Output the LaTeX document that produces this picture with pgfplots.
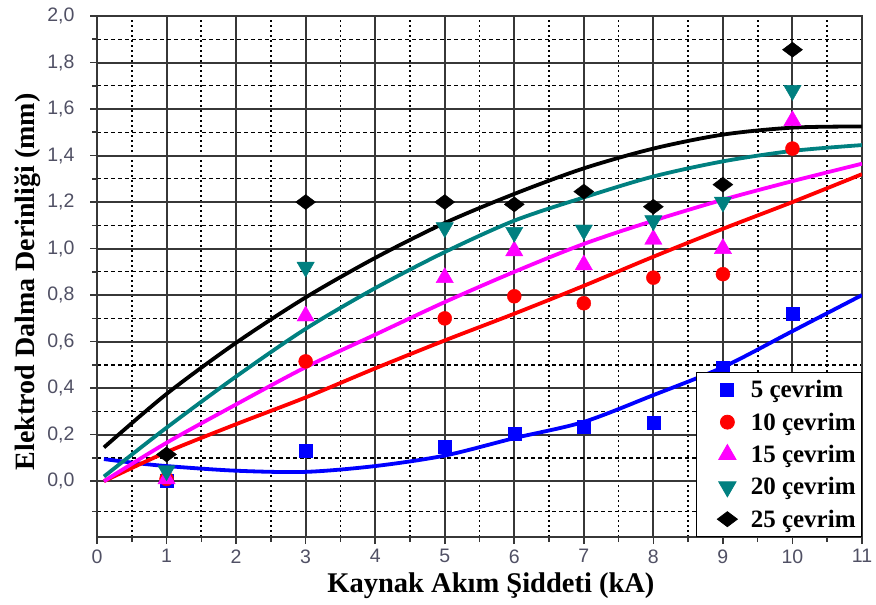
\documentclass[border=0pt]{standalone}
\usepackage{pgfplots}
\pgfplotsset{compat=1.18}
\usepackage{fontspec}
\setmainfont{Liberation Serif}
\newfontfamily\tickfont{Liberation Sans}
\definecolor{tickc}{RGB}{80,80,100}
\definecolor{tealc}{RGB}{0,128,128}
\definecolor{magc}{RGB}{255,0,255}
\definecolor{bluec}{RGB}{0,0,255}
\definecolor{redc}{RGB}{255,0,0}
\definecolor{gridc}{RGB}{55,55,55}
\begin{document}
\begin{tikzpicture}
\begin{axis}[
  name=main,
  scale only axis, width=765pt, height=521pt,
  xmin=0, xmax=11, ymin=-0.24, ymax=2.0,
  xtick={0,1,2,3,4,5,6,7,8,9,10,11},
  ytick={0,0.2,0.4,0.6,0.8,1.0,1.2,1.4,1.6,1.8,2.0},
  minor xtick={0.5,1.5,2.5,3.5,4.5,5.5,6.5,7.5,8.5,9.5,10.5},
  minor ytick={-0.13,0.1,0.3,0.5,0.7,0.9,1.1,1.3,1.5,1.7,1.9},
  grid=both,
  major grid style={gridc, line width=2pt},
  minor x grid style={black, line width=1.8pt, dash pattern=on 1.8pt off 3.2pt},
  minor y grid style={black, line width=1.3pt, dash pattern=on 4pt off 3pt},
  axis line style={gridc, line width=2pt},
  tick align=outside, tick pos=left,
  major tick length=7pt, minor tick length=5pt,
  every tick/.style={gridc, line width=1.6pt},
  /pgf/number format/assume math mode=true,
  yticklabel style={/pgf/number format/fixed, /pgf/number format/fixed zerofill,
    /pgf/number format/precision=1, /pgf/number format/use comma},
  every tick label/.append style={font=\tickfont\fontsize{19.5}{19.5}\selectfont, text=tickc},
  every y tick label/.append style={anchor=east, xshift=-12pt},
  every x tick label/.append style={anchor=north, yshift=-2pt},
  xlabel={Kaynak Akım Şiddeti (kA)},
  ylabel={Elektrod Dalma Derinliği (mm)},
  every axis x label/.style={at={(axis description cs:0.515,-0.094)}, anchor=center,
    font=\bfseries\fontsize{28.5}{28.5}\selectfont, text=black},
  every axis y label/.style={at={(axis description cs:-0.091,0.49)}, anchor=center, rotate=90,
    font=\bfseries\fontsize{28}{28}\selectfont, text=black},
  legend style={at={(axis description cs:1,0)}, anchor=south east, draw=black, line width=0.8pt, fill=white,
    font=\bfseries\fontsize{25}{26}\selectfont, row sep=9.5pt, inner xsep=4pt, inner ysep=6pt,
    legend cell align=left},
  legend image code/.code={\path (0pt,0pt) (48pt,0pt); \draw[#1] plot coordinates {(27pt,0pt)};},
]
% fitted curves
\addplot[bluec, line width=3.8pt, smooth, forget plot] coordinates {
 (0.1,0.095) (0.5,0.08) (1,0.065) (2,0.045) (3,0.04) (4,0.065) (5,0.11) (6,0.185) (7,0.255) (8,0.37) (9,0.49) (10,0.645) (11,0.80)};
\addplot[redc, line width=3.8pt, smooth, forget plot] coordinates {
 (0.1,0.0) (1,0.125) (2,0.245) (3,0.36) (4,0.485) (5,0.605) (6,0.72) (7,0.84) (8,0.965) (9,1.085) (10,1.20) (11,1.32)};
\addplot[magc, line width=3.8pt, smooth, forget plot] coordinates {
 (0.1,0.0) (1,0.165) (2,0.33) (3,0.49) (4,0.63) (5,0.77) (6,0.90) (7,1.02) (8,1.12) (9,1.21) (10,1.29) (11,1.365)};
\addplot[tealc, line width=3.8pt, smooth, forget plot] coordinates {
 (0.1,0.02) (1,0.23) (2,0.45) (3,0.655) (4,0.83) (5,0.985) (6,1.12) (7,1.22) (8,1.31) (9,1.375) (10,1.42) (11,1.445)};
\addplot[black, line width=3.8pt, smooth, forget plot] coordinates {
 (0.1,0.145) (1,0.375) (2,0.595) (3,0.79) (4,0.96) (5,1.11) (6,1.235) (7,1.345) (8,1.43) (9,1.49) (10,1.52) (11,1.525)};
% measured points
\addplot[only marks, mark=square*, mark size=6.5pt, bluec, mark options={draw=bluec, fill=bluec}] coordinates {
 (1,0.0) (3,0.133) (5,0.15) (6,0.205) (7,0.236) (8,0.253) (9,0.49) (10,0.72)};
\addlegendentry{5 çevrim}
\addplot[only marks, mark=*, mark size=7pt, redc, mark options={draw=redc, fill=redc}] coordinates {
 (1,0.01) (3,0.515) (5,0.70) (6,0.795) (7,0.765) (8,0.875) (9,0.89) (10,1.43)};
\addlegendentry{10 çevrim}
\addplot[only marks, mark=triangle*, mark size=10pt, magc, mark options={draw=magc, fill=magc}] coordinates {
 (1,0.01) (3,0.71) (5,0.875) (6,0.99) (7,0.93) (8,1.04) (9,1.00) (10,1.55)};
\addlegendentry{15 çevrim}
\addplot[only marks, mark=triangle*, mark size=10pt, tealc, mark options={draw=tealc, fill=tealc, rotate=180}] coordinates {
 (1,0.045) (3,0.92) (5,1.09) (6,1.07) (7,1.08) (8,1.12) (9,1.20) (10,1.68)};
\addlegendentry{20 çevrim}
\addplot[only marks, mark=diamond*, mark size=10pt, black, mark options={draw=black, fill=black, rotate=90}] coordinates {
 (1,0.115) (3,1.20) (5,1.20) (6,1.19) (7,1.245) (8,1.18) (9,1.275) (10,1.855)};
\addlegendentry{25 çevrim}
\end{axis}
\pgfresetboundingbox
\path[use as bounding box] ([shift={(-97pt,-68pt)}]main.south west) rectangle ([shift={(14pt,16pt)}]main.north east);
\end{tikzpicture}
\end{document}
